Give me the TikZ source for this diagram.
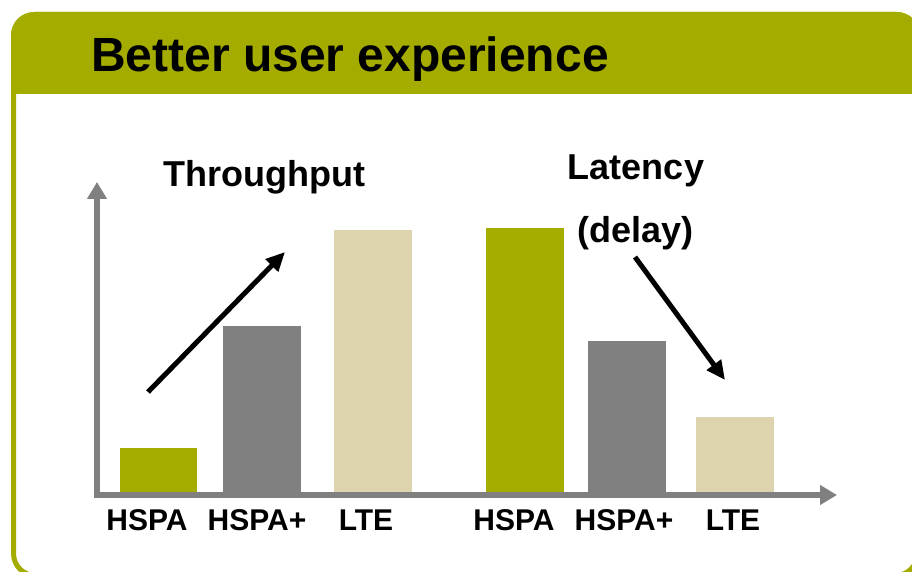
\documentclass[tikz,border=0pt]{standalone}
\usepackage{fontspec}
\setmainfont{Liberation Sans}
\usetikzlibrary{arrows.meta}
\definecolor{olivebar}{RGB}{164,172,0}
\definecolor{graybar}{RGB}{128,128,128}
\definecolor{beigebar}{RGB}{221,212,175}
\tikzset{
  bar/.style={draw=none},
  axisline/.style={draw=graybar, line width=5.5pt, line join=miter,
    {Triangle[length=17pt,width=19pt]}-{Triangle[length=17pt,width=19pt]}},
  trend/.style={draw=black, line width=5pt, -{Triangle[length=19pt,width=17pt]}},
  lab/.style={anchor=base, inner sep=0pt, font=\bfseries\fontsize{30}{34}\selectfont},
  ttl/.style={anchor=base, inner sep=0pt, font=\bfseries\fontsize{36}{40}\selectfont},
}
\begin{document}
\begin{tikzpicture}[x=1pt,y=1pt]
\useasboundingbox (0,0) rectangle (912,571);
\begin{scope}
\clip (0,0) rectangle (912,571);
% header band
\fill[olivebar] (11,477) [rounded corners=23pt] -- (11,559) -- (920,559) [sharp corners] -- (920,477) -- cycle;
% frame
\draw[olivebar, line width=5pt, rounded corners=22pt] (13.5,-4.5) rectangle (917.5,556.5);
\end{scope}
\node[anchor=base west, inner sep=0pt, font=\bfseries\fontsize{48}{52}\selectfont] (hdr) at (91,499) {Better user experience};
% bars
\fill[olivebar] (120,76) rectangle (197,123);
\fill[graybar]  (223,76) rectangle (301,245);
\fill[beigebar] (334,76) rectangle (412,341);
\fill[olivebar] (486,76) rectangle (564,343);
\fill[graybar]  (588,76) rectangle (666,230);
\fill[beigebar] (696,76) rectangle (774,154);
% axes
\coordinate (ytip) at (97,389);
\coordinate (origin) at (97,76);
\coordinate (xtip) at (837,76);
\draw[axisline] (ytip) -- (origin) -- (xtip);
% labels
\node[lab] (l1) at (147,41) {HSPA};
\node[lab] (l2) at (257,41) {HSPA+};
\node[lab] (l3) at (366,41) {LTE};
\node[lab] (l4) at (514,41) {HSPA};
\node[lab] (l5) at (624,41) {HSPA+};
\node[lab] (l6) at (733,41) {LTE};
% titles
\node[ttl] (thr) at (264.5,384) {Throughput};
\node[ttl] (lat) at (636,391) {Latency};
\node[ttl] (del) at (635.5,328) {(delay)};
% trend arrows
\coordinate (ta) at (148,179);
\coordinate (tb) at (285,319);
\coordinate (la) at (635,314);
\coordinate (lb) at (725,191);
\draw[trend] (ta) -- (tb);
\draw[trend] (la) -- (lb);
\end{tikzpicture}
\end{document}
